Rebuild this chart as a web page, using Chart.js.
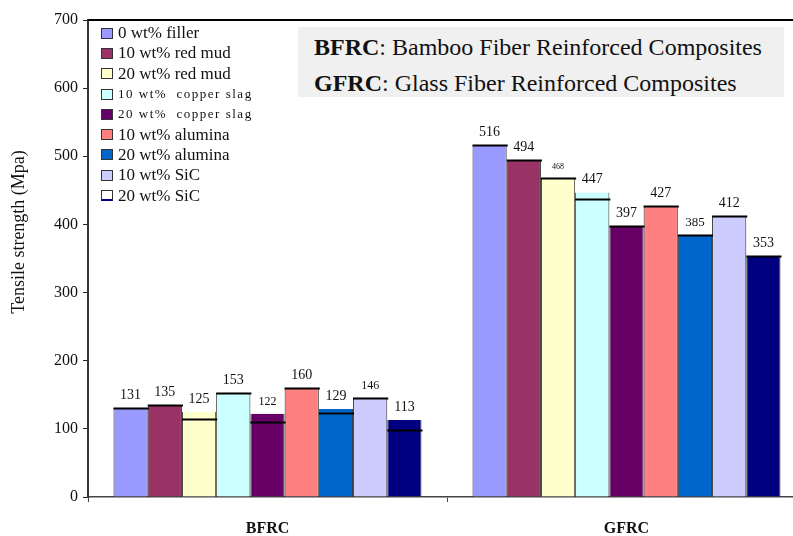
<!DOCTYPE html>
<html>
<head>
<meta charset="utf-8">
<script src="https://cdn.jsdelivr.net/npm/chart.js@4"></script>
<style>
  body { margin: 0; background: #fff; overflow: hidden; }
  #wrap { position: relative; width: 793px; height: 536px; overflow: hidden; }
  #info {
    position: absolute; left: 298px; top: 27px; width: 486px; height: 70px;
    background: #f0f0f0; font-family: "Liberation Serif", serif; font-size: 24px;
    color: #111; line-height: 36px; padding-left: 16px; box-sizing: border-box; padding-top: 2px;
  }
  #legend {
    position: absolute; left: 101px; top: 23px; font-family: "Liberation Serif", serif;
    font-size: 17px; color: #111;
  }
  .item { height: 20.3px; display: flex; align-items: center; white-space: pre; }
  .box { width: 12px; height: 11px; border: 1px solid #333; margin-right: 5px; flex: none; box-sizing: border-box; }
  .wide { font-size: 13px; letter-spacing: 1.5px; }
</style>
</head>
<body>
<div id="wrap">
  <canvas id="myChart" width="820" height="536"></canvas>
  <div id="info"><b>BFRC</b>: Bamboo Fiber Reinforced Composites<br><b>GFRC</b>: Glass Fiber Reinforced Composites</div>
  <div id="legend"></div>
</div>
<script>
const categories = ['BFRC', 'GFRC'];
const fillers = ['0 wt% filler', '10 wt% red mud', '20 wt% red mud', '10 wt%  copper slag', '20 wt%  copper slag',
  '10 wt% alumina', '20 wt% alumina', '10 wt% SiC', '20 wt% SiC'];
const bfrcValues = [131, 135, 125, 153, 122, 160, 129, 146, 113];
const gfrcValues = [516, 494, 468, 447, 397, 427, 385, 412, 353];
// black marker lines (not always at the bar top)
const bfrcMarks = [131, 135, 115, 153, 110, 160, 123, 146, 98];
const gfrcMarks = [516, 494, 468, 438, 397, 427, 385, 412, 353];
const yTicks = [0, 100, 200, 300, 400, 500, 600, 700];

const colors = ['#9999ff', '#993366', '#ffffcc', '#ccffff', '#660066', '#ff8080', '#0066cc', '#ccccff', '#000080'];
// a few labels are printed smaller in the original
const smallLabels = { '0-7': 12, '0-4': 12, '1-2': 8, '1-6': 13 };

const datasets = fillers.map((name, i) => ({
  label: name,
  data: [bfrcValues[i], gfrcValues[i]],
  marks: [bfrcMarks[i], gfrcMarks[i]],
  backgroundColor: colors[i],
  borderColor: '#333',
  borderWidth: { left: 1, right: 1, top: 0, bottom: 0 },
  borderSkipped: false
}));

const extras = {
  id: 'extras',
  afterDatasetsDraw(chart) {
    const c = chart.ctx;
    const y = chart.scales.y;
    const area = chart.chartArea;
    c.save();
    // top frame line
    c.strokeStyle = '#000';
    c.lineWidth = 2;
    c.beginPath();
    c.moveTo(area.left, area.top);
    c.lineTo(area.right, area.top);
    c.stroke();
    chart.data.datasets.forEach((ds, i) => {
      chart.getDatasetMeta(i).data.forEach((bar, j) => {
        const w = bar.width;
        const my = Math.round(y.getPixelForValue(ds.marks[j])) + 0.5;
        c.strokeStyle = '#000';
        c.lineWidth = 2;
        c.beginPath();
        c.moveTo(bar.x - w / 2, my);
        c.lineTo(bar.x + w / 2 + 1, my);
        c.stroke();
        const size = smallLabels[j + '-' + i] || 14;
        c.font = size + 'px "Liberation Serif"';
        c.fillStyle = '#111';
        c.textAlign = 'center';
        c.textBaseline = 'alphabetic';
        c.fillText(String(ds.data[j]), bar.x, bar.y - 9);
      });
    });
    // axis title, placed where the original has it
    c.translate(19, 232);
    c.rotate(-Math.PI / 2);
    c.font = '18px "Liberation Serif"';
    c.fillStyle = '#111';
    c.textAlign = 'center';
    c.textBaseline = 'middle';
    c.fillText('Tensile strength (Mpa)', 0, 0);
    c.restore();
  }
};

new Chart(document.getElementById('myChart'), {
  type: 'bar',
  data: { labels: categories, datasets: datasets },
  plugins: [extras],
  options: {
    responsive: false,
    animation: false,
    devicePixelRatio: 1,
    layout: { padding: { top: 20, right: 14, left: 0, bottom: 0 } },
    datasets: { bar: { categoryPercentage: 0.858, barPercentage: 1.0 } },
    plugins: { legend: { display: false }, tooltip: { enabled: false } },
    scales: {
      x: {
        afterFit: s => { s.height = 39; },
        grid: { drawOnChartArea: false, tickLength: 5, color: '#444', offset: true },
        border: { color: '#444', width: 1.5 },
        ticks: { padding: 17, color: '#111', font: { family: 'Liberation Serif', size: 16, weight: 'bold' } }
      },
      y: {
        min: 0, max: 700,
        afterFit: s => { s.width = 88; },
        afterBuildTicks: s => { s.ticks = yTicks.map(v => ({ value: v })); },
        grid: { drawOnChartArea: false, tickLength: 5, color: '#222' },
        border: { color: '#333', width: 2 },
        ticks: { padding: 5, color: '#111', font: { family: 'Liberation Serif', size: 16 } }
      }
    }
  }
});

const legend = document.getElementById('legend');
fillers.forEach((name, i) => {
  const row = document.createElement('div');
  row.className = 'item' + (name.includes('copper') ? ' wide' : '');
  const box = document.createElement('span');
  box.className = 'box';
  if (i === 8) {
    box.style.background = '#fff';
    box.style.borderBottom = '2px solid #000080';
  } else {
    box.style.background = colors[i];
  }
  row.appendChild(box);
  row.appendChild(document.createTextNode(name));
  legend.appendChild(row);
});
</script>
</body>
</html>
